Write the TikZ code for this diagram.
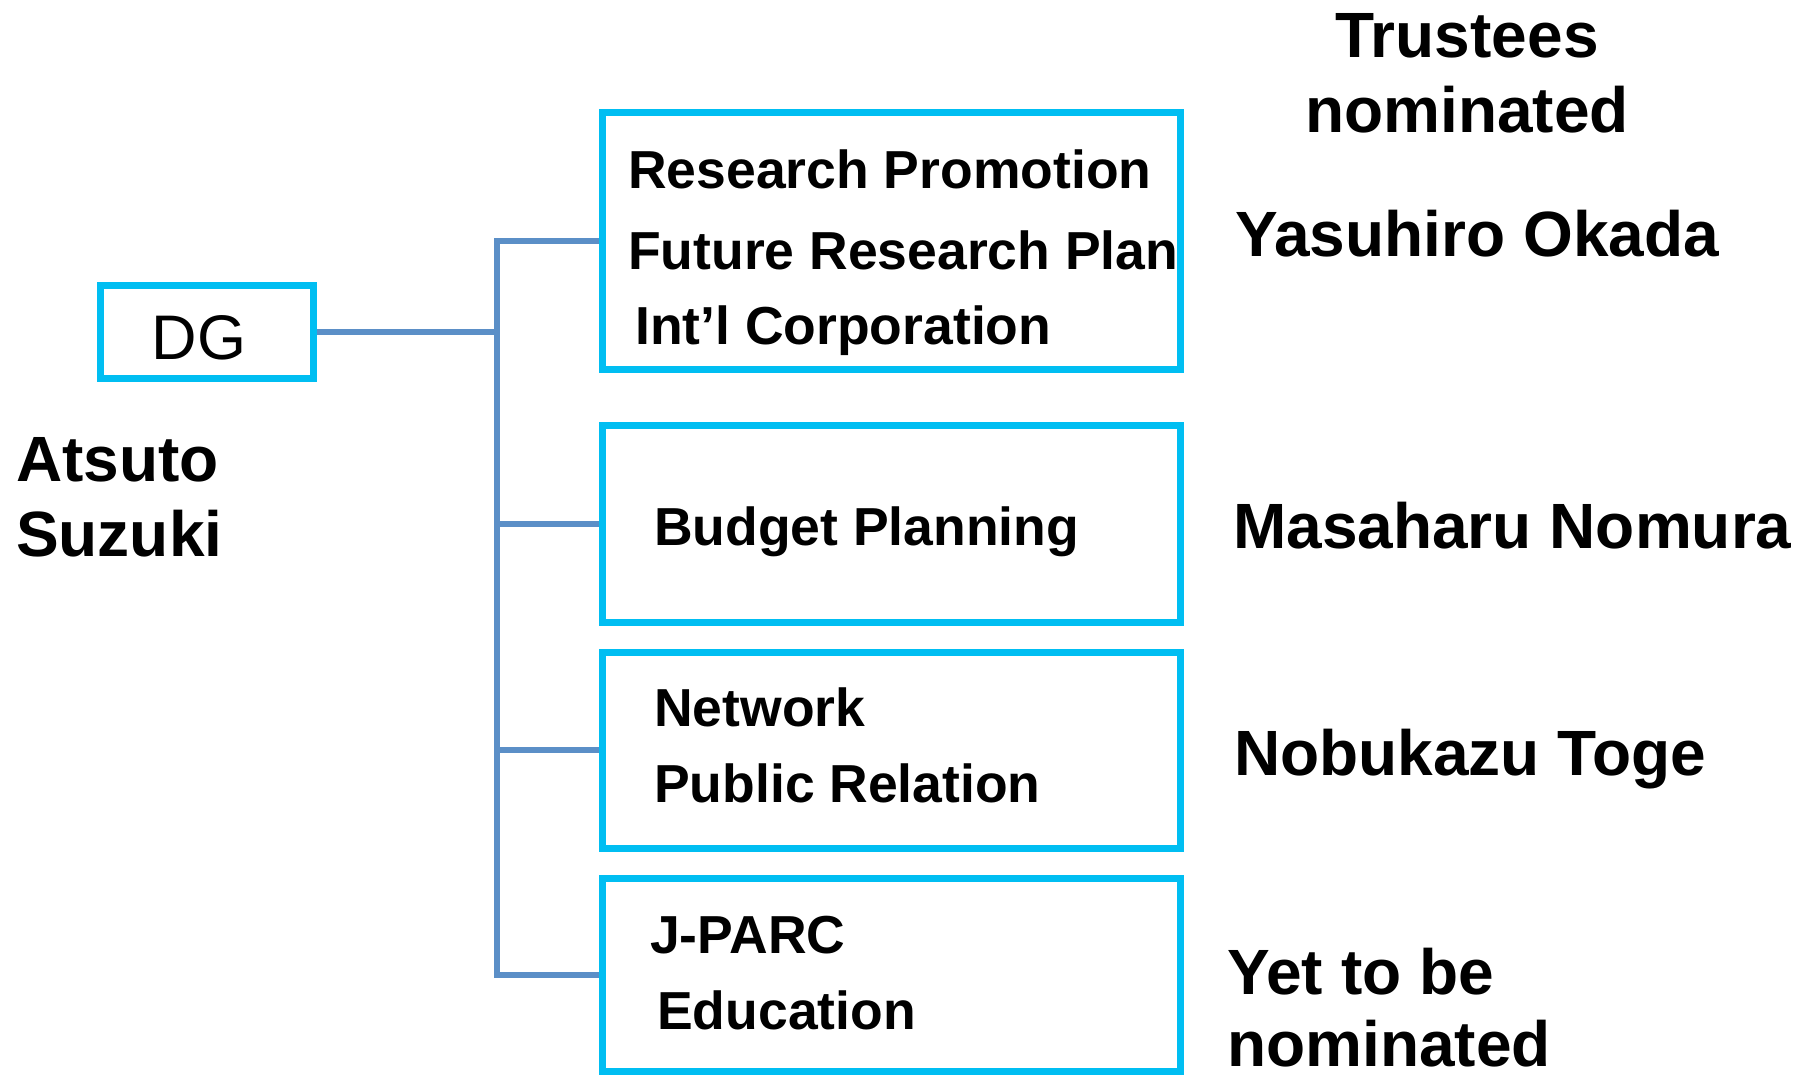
\documentclass[tikz,border=0pt]{standalone}
\usepackage{fontspec}
\setmainfont{Liberation Sans}
\definecolor{boxcyan}{RGB}{0,190,242}
\definecolor{linkblue}{RGB}{91,143,199}
\begin{document}
\begin{tikzpicture}[x=1pt,y=-1pt,
  unitbox/.style={draw=boxcyan,line width=7pt,rectangle,inner sep=0pt},
  conn/.style={draw=linkblue,line width=6pt,line join=miter},
  inbox/.style={anchor=base west,inner sep=0pt,font=\fontsize{53.5}{60}\selectfont\bfseries},
  big/.style={anchor=base west,inner sep=0pt,font=\fontsize{64}{70}\selectfont\bfseries}]
\useasboundingbox (0,0) rectangle (1805,1074);

% DG box
\node[unitbox,minimum width=213pt,minimum height=93pt] (dg) at (207,331.5) {};
\node[anchor=base,inner sep=0pt,font=\fontsize{63}{68}\selectfont] (dgtext) at (199,359) {DG};

% unit boxes
\node[unitbox,minimum width=578pt,minimum height=257pt] (b1) at (891,240.5) {};
\node[unitbox,minimum width=578pt,minimum height=197pt] (b2) at (891,523.5) {};
\node[unitbox,minimum width=578pt,minimum height=196pt] (b3) at (891,750) {};
\node[unitbox,minimum width=578pt,minimum height=193pt] (b4) at (891,974.5) {};

% connectors
\coordinate (spine) at (497,0);
\draw[conn] (dg.east) -- (dg.east -| spine);
\draw[conn] (b1.west) -- (b1.west -| spine) -- (b4.west -| spine) -- (b4.west);
\draw[conn] (b2.west -| spine) -- (b2.west);
\draw[conn] (b3.west -| spine) -- (b3.west);

% box texts
\node[inbox] (t11) at (628,188) {Research Promotion};
\node[inbox] (t12) at (628,269) {Future Research Plan};
\node[inbox] (t13) at (635,344) {Int’l Corporation};
\node[inbox] (t21) at (654,545) {Budget Planning};
\node[inbox] (t31) at (654,726) {Network};
\node[inbox] (t32) at (654,802) {Public Relation};
\node[inbox] (t41) at (650,953) {J-PARC};
\node[inbox] (t42) at (657,1029) {Education};

% people
\node[big] (atsuto) at (16,481) {Atsuto};
\node[big] (suzuki) at (16,556) {Suzuki};
\node[big,anchor=base] (trust) at (1467,57) {Trustees};
\node[big,anchor=base] (nomin) at (1467,132) {nominated};
\node[big] (okada) at (1235,256) {Yasuhiro Okada};
\node[big] (nomura) at (1233,548) {Masaharu Nomura};
\node[big] (toge) at (1234,775) {Nobukazu Toge};
\node[big] (yet) at (1227,994) {Yet to be};
\node[big] (yetnom) at (1227,1066) {nominated};
\end{tikzpicture}
\end{document}
